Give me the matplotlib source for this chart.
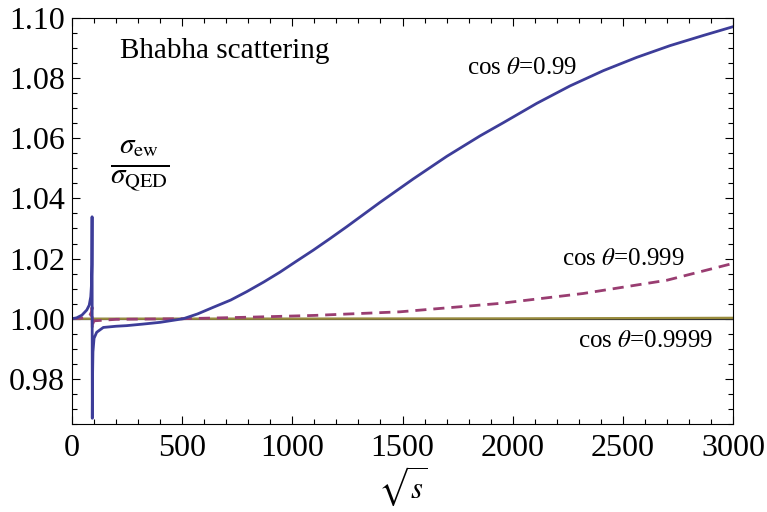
import numpy as np
import matplotlib
matplotlib.use("Agg")
import matplotlib.pyplot as plt
from matplotlib.ticker import MultipleLocator, FormatStrFormatter

plt.rcParams['font.family'] = ['Liberation Serif', 'DejaVu Serif']
plt.rcParams['mathtext.fontset'] = 'stix'

# cos theta = 0.99
x99 = [0, 21, 45, 67, 78, 85, 88, 90, 91, 92, 93, 95, 100, 112, 142, 200, 248, 320, 400,
       505, 570, 641, 720, 793, 870, 944, 1020, 1095, 1170, 1247, 1398, 1549, 1701, 1852,
       1958, 2109, 2260, 2412, 2563, 2714, 2866, 3000]
y99 = [1.0, 1.0003, 1.0012, 1.0029, 1.0045, 1.0073, 1.011, 1.018, 1.0339, 0.9669, 0.980,
       0.989, 0.9935, 0.9955, 0.9971, 0.9975, 0.9977, 0.9982, 0.9988, 1.0, 1.0016, 1.0038,
       1.0062, 1.0090, 1.0122, 1.0155, 1.0192, 1.0228, 1.0266, 1.0306, 1.0387, 1.0465,
       1.0540, 1.0608, 1.0652, 1.0716, 1.0774, 1.0825, 1.0869, 1.0908, 1.0942, 1.0971]

# cos theta = 0.999
x999 = [0, 60, 80, 88, 91, 92, 95, 100, 200, 500, 800, 1100, 1489, 1943, 2321, 2700, 3000]
y999 = [1.0, 1.0003, 1.001, 1.0022, 1.0038, 0.9965, 0.9985, 0.9993, 0.9998, 1.0, 1.0005,
        1.0011, 1.0023, 1.0051, 1.0084, 1.0128, 1.0184]

# cos theta = 0.9999
x9999 = [0, 1000, 2000, 3000]
y9999 = [1.0, 1.00002, 1.0001, 1.0003]

ref_x = [0, 3000]
ref_y = [1.0, 1.0]

blue = (0.24, 0.24, 0.6)
magenta = (0.6, 0.24, 0.442)
olive = (0.6, 0.55, 0.24)

fig = plt.figure(figsize=(7.67, 5.12), dpi=100)
ax = fig.add_axes([0.0939, 0.1719, 0.8618, 0.7930])

ax.plot(ref_x, ref_y, color='#333333', lw=1.6)
ax.plot(x9999, y9999, color=olive, lw=1.6)
ax.plot(x999, y999, color=magenta, lw=2, ls=(0, (4, 2.5)))
ax.plot(x99, y99, color=blue, lw=2)

ax.set_xlim(0, 3000)
ax.set_ylim(0.965, 1.10)
ax.xaxis.set_major_locator(MultipleLocator(500))
ax.xaxis.set_minor_locator(MultipleLocator(100))
ax.yaxis.set_major_locator(MultipleLocator(0.02))
ax.yaxis.set_minor_locator(MultipleLocator(0.005))
ax.yaxis.set_major_formatter(FormatStrFormatter('%.2f'))
ax.tick_params(which='both', direction='in', top=True, right=True, labelsize=23)
ax.tick_params(axis='x', pad=7)
ax.tick_params(axis='y', pad=5)
ax.tick_params(which='major', length=6, width=0.8)
ax.tick_params(which='minor', length=3.5, width=0.8)
for s in ax.spines.values():
    s.set_linewidth(0.8)

ax.set_xlabel(r'$\sqrt{s}$', fontsize=22, labelpad=1)

ax.text(0.0726, 0.918, 'Bhabha scattering', transform=ax.transAxes, fontsize=21, va='center')
ax.text(0.103, 0.635, r'$\frac{\sigma_{\rm ew}}{\sigma_{\rm QED}}$', transform=ax.transAxes,
        fontsize=30, ha='center', va='center')
ax.text(1793, 1.0834, r'cos $\theta$=0.99', fontsize=18, va='center')
ax.text(2224, 1.0199, r'cos $\theta$=0.999', fontsize=18, va='center')
ax.text(2297, 0.9926, r'cos $\theta$=0.9999', fontsize=18, va='center')

fig.savefig('out.png', dpi=100)
